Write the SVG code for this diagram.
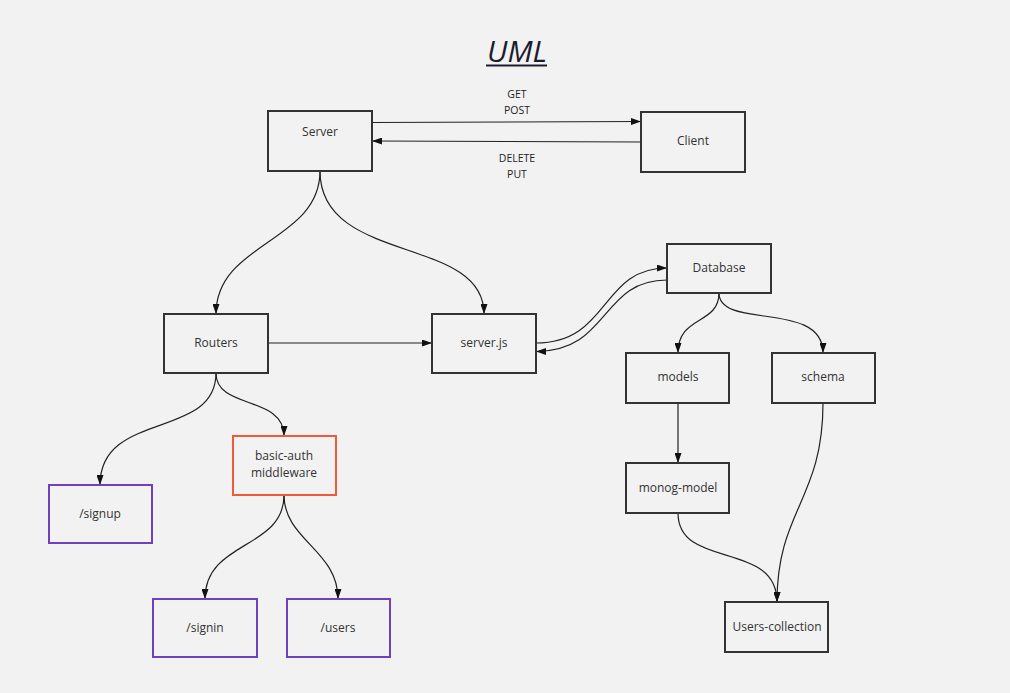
<svg xmlns="http://www.w3.org/2000/svg" width="1010" height="693" viewBox="0 0 1010 693">
  <defs>
    <marker id="arrow" viewBox="0 0 10 7" markerWidth="10" markerHeight="7" refX="10" refY="3.5" orient="auto" markerUnits="userSpaceOnUse">
      <path d="M0,0 L10,3.5 L0,7 z" fill="#111"/>
    </marker>
    <style>
      .box { fill: none; stroke: #333; stroke-width: 2; }
      .route { fill: none; stroke: #7040c0; stroke-width: 2; }
      .auth { fill: none; stroke: #f2583a; stroke-width: 2; }
      .label { font-family: "Open Sans", "Liberation Sans", sans-serif; font-size: 12px; fill: #333; text-anchor: middle; dominant-baseline: central; }
      .verb { font-family: "Open Sans", "Liberation Sans", sans-serif; font-size: 10.5px; fill: #222; text-anchor: middle; dominant-baseline: central; }
      .link { fill: none; stroke: #222; stroke-width: 1.2; marker-end: url(#arrow); }
    </style>
  </defs>

  <rect width="1010" height="693" fill="#f2f2f2"/>

  <!-- title -->
  <text x="517" y="62" font-family="Open Sans, Liberation Sans, sans-serif" font-size="30" font-style="italic" fill="#1c1c30" text-anchor="middle">UML</text>
  <line x1="486" y1="65.5" x2="547" y2="65.5" stroke="#1c1c30" stroke-width="2"/>

  <!-- connectors -->
  <g id="connectors">
    <path class="link" d="M372,122.5 L641,121.5"/>
    <path class="link" d="M641,142 L372,141"/>
    <path class="link" d="M320,171 C320,242 216,242 216,314"/>
    <path class="link" d="M320,171 C320,265 484,235 484,314"/>
    <path class="link" d="M268,343 L432,343"/>
    <path class="link" d="M536,343 C610,343 600,268 667,268"/>
    <path class="link" d="M667,280 C600,280 610,351.5 536,351.5"/>
    <path class="link" d="M719,293 C719,325 678,315 678,353"/>
    <path class="link" d="M719,293 C719,330 823,300 823,353"/>
    <path class="link" d="M678,403 L678,463"/>
    <path class="link" d="M678,513 C678,570 777,540 777,602"/>
    <path class="link" d="M823,403 C823,500 777,510 777,602"/>
    <path class="link" d="M216,373 C216,440 100,410 100,485"/>
    <path class="link" d="M216,373 C216,410 284,395 284,436"/>
    <path class="link" d="M284,495 C284,550 205,540 205,599"/>
    <path class="link" d="M284,495 C284,540 338,550 338,599"/>
  </g>

  <!-- HTTP verbs -->
  <text class="verb" x="517" y="94">GET</text>
  <text class="verb" x="517" y="110">POST</text>
  <text class="verb" x="517" y="158">DELETE</text>
  <text class="verb" x="517" y="174">PUT</text>

  <g id="server">
    <rect class="box" x="268" y="111" width="104" height="60"/>
    <text class="label" x="320" y="131">Server</text>
  </g>
  <g id="client">
    <rect class="box" x="641" y="112" width="104" height="60"/>
    <text class="label" x="693" y="140.5">Client</text>
  </g>
  <g id="routers">
    <rect class="box" x="164" y="314" width="104" height="59"/>
    <text class="label" x="216" y="342.5">Routers</text>
  </g>
  <g id="server-js">
    <rect class="box" x="432" y="314" width="104" height="59"/>
    <text class="label" x="484" y="342.5">server.js</text>
  </g>
  <g id="database">
    <rect class="box" x="667" y="244" width="104" height="49"/>
    <text class="label" x="719" y="267.5">Database</text>
  </g>
  <g id="models">
    <rect class="box" x="626" y="353" width="103" height="50"/>
    <text class="label" x="678" y="376.5">models</text>
  </g>
  <g id="schema">
    <rect class="box" x="772" y="353" width="103" height="50"/>
    <text class="label" x="823" y="376.5">schema</text>
  </g>
  <g id="monog-model">
    <rect class="box" x="626" y="463" width="103" height="50"/>
    <text class="label" x="678" y="487.5">monog-model</text>
  </g>
  <g id="users-collection">
    <rect class="box" x="725" y="602" width="103" height="50"/>
    <text class="label" x="777" y="626.5">Users-collection</text>
  </g>
  <g id="signup">
    <rect class="route" x="49" y="485" width="103" height="58"/>
    <text class="label" x="100" y="513.5">/signup</text>
  </g>
  <g id="basic-auth">
    <rect class="auth" x="233" y="436" width="103" height="59"/>
    <text class="label" x="284" y="455.5">basic-auth</text>
    <text class="label" x="284" y="472.5">middleware</text>
  </g>
  <g id="signin">
    <rect class="route" x="153" y="599" width="104" height="58"/>
    <text class="label" x="205" y="627.5">/signin</text>
  </g>
  <g id="users">
    <rect class="route" x="287" y="599" width="103" height="58"/>
    <text class="label" x="338" y="627.5">/users</text>
  </g>
</svg>
